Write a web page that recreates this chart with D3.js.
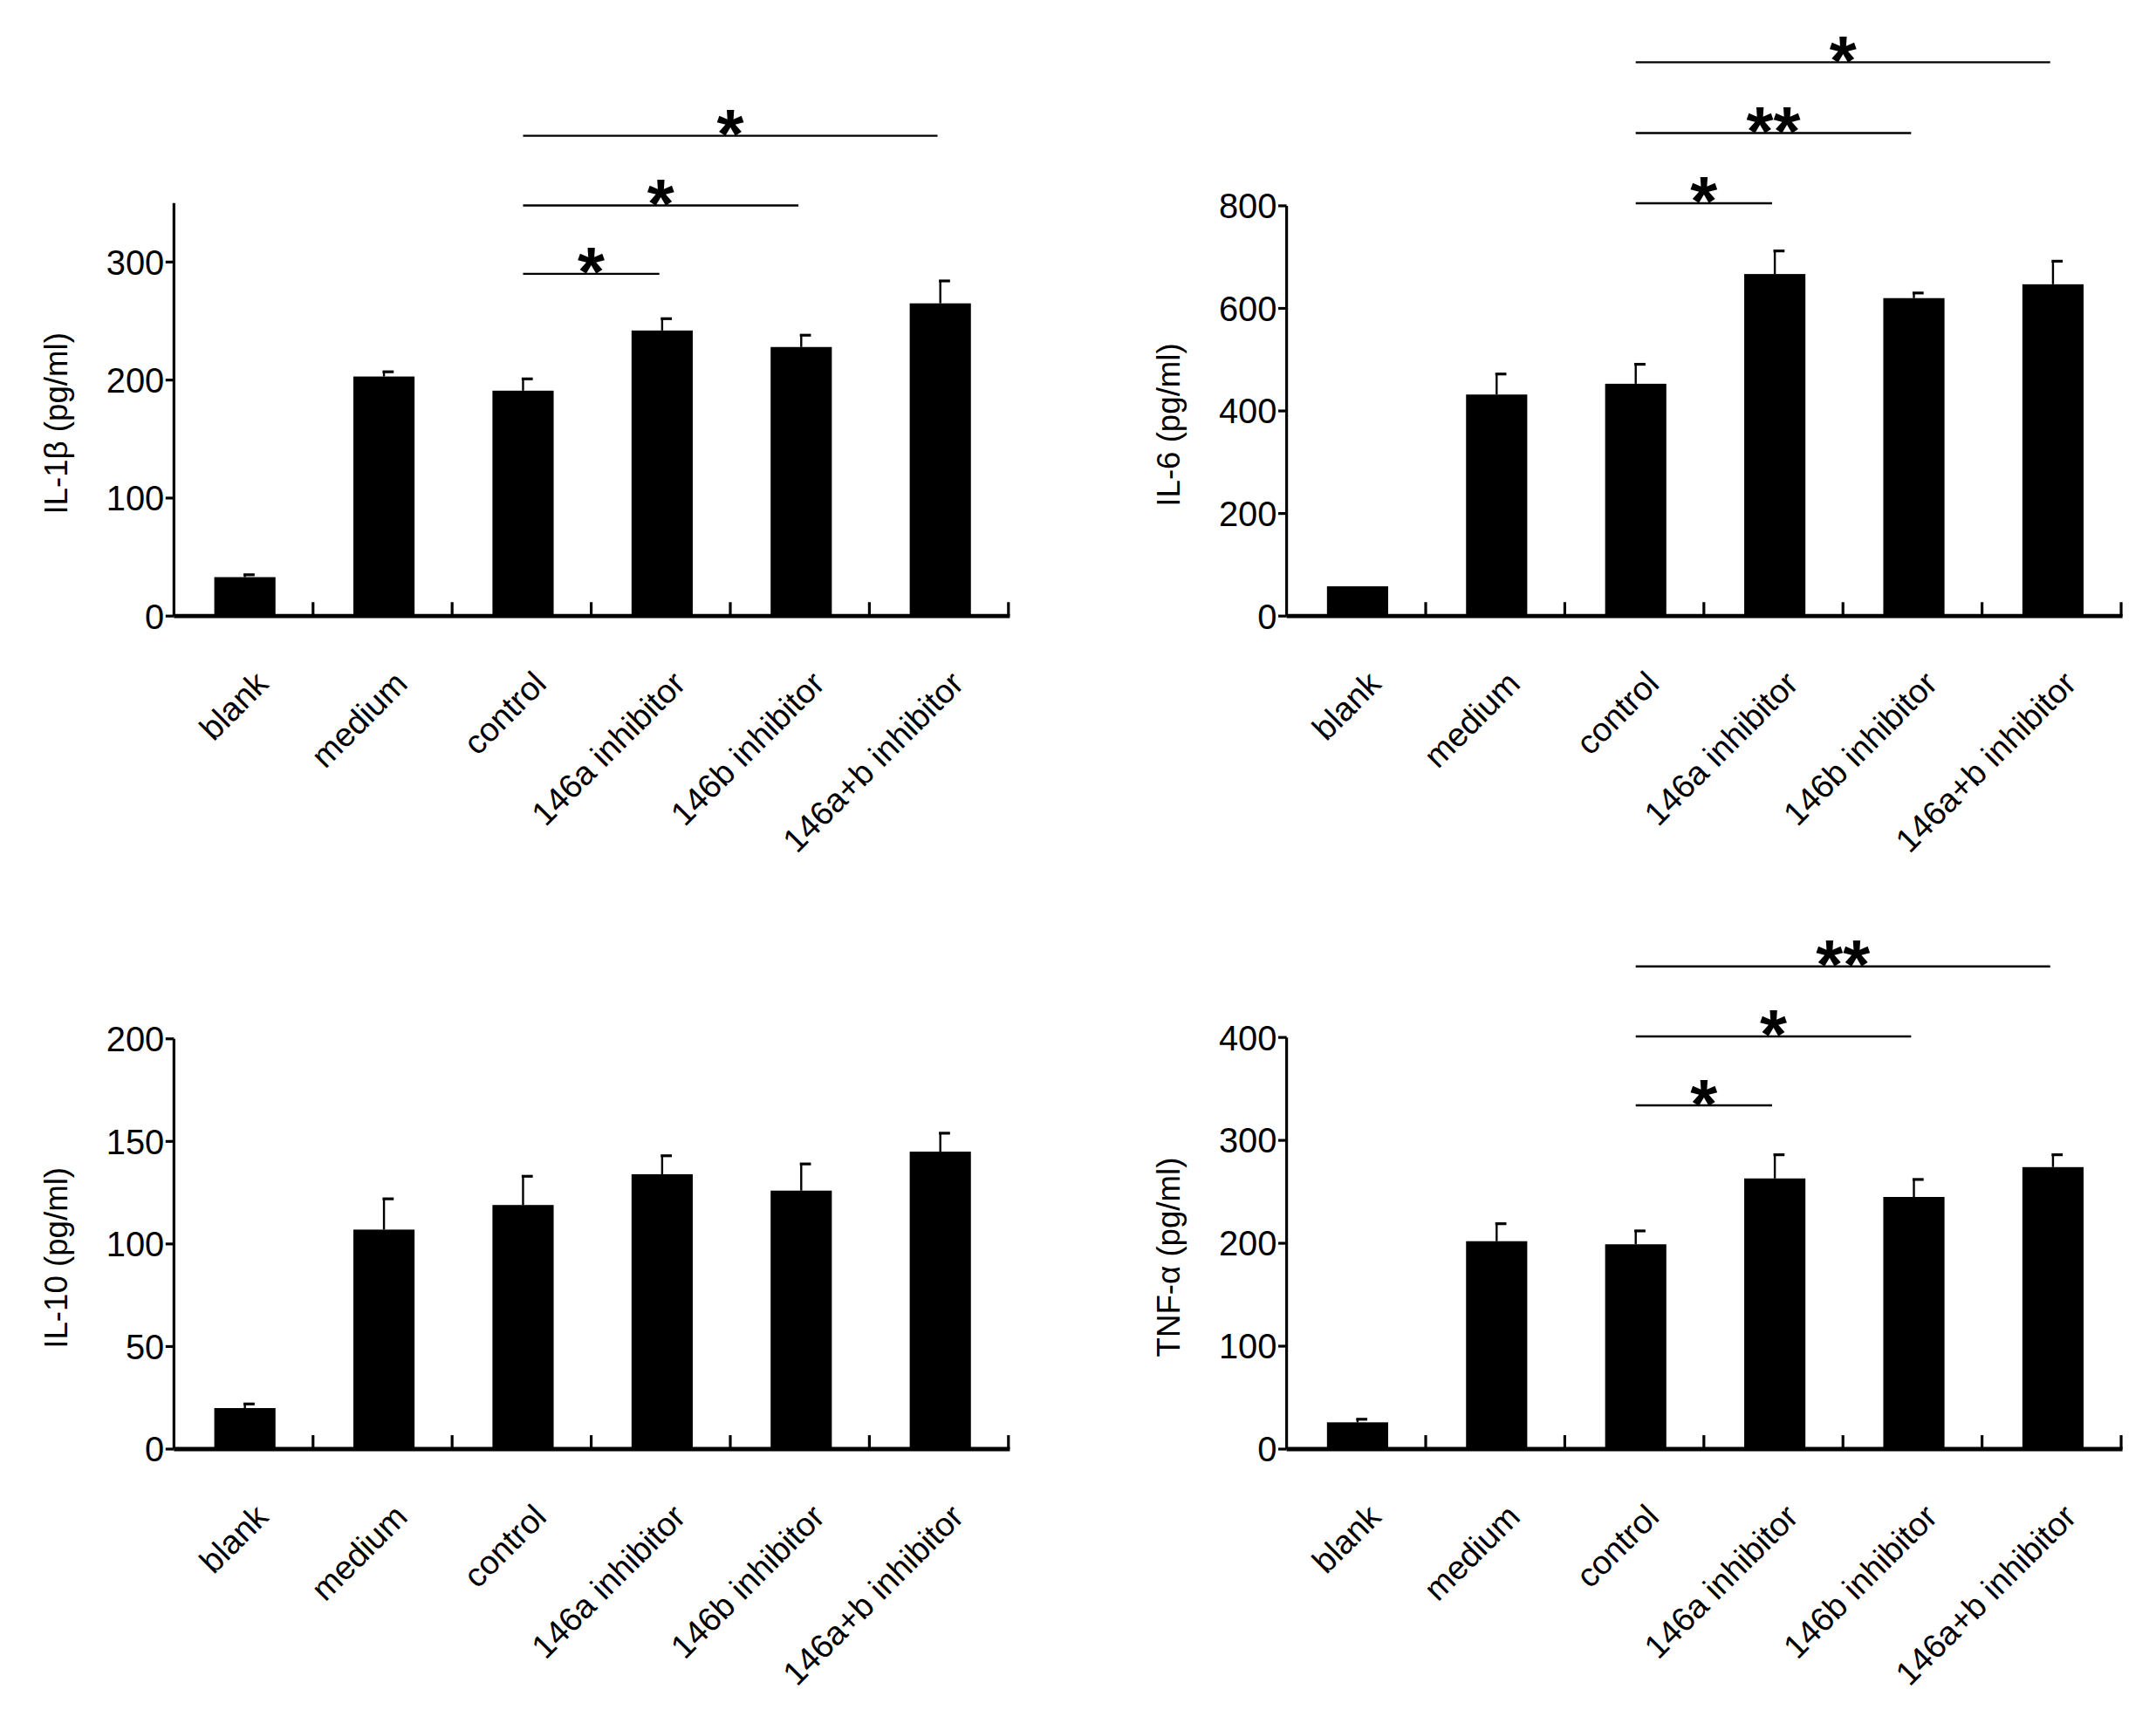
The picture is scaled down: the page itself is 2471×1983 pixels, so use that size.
<!DOCTYPE html>
<html><head><meta charset="utf-8">
<script src="https://cdn.jsdelivr.net/npm/d3@7"></script>
<style>body{margin:0;background:#fff}</style>
</head><body>
<script>
const categories = ["blank","medium","control","146a inhibitor","146b inhibitor","146a+b inhibitor"];
const il1bValues = [33,203,191,242,228,265];
const il1bErrors = [2,4,10,10,10,19];
const il6Values = [58,432,453,667,620,647];
const il6Errors = [0,40,38,45,10,45];
const il10Values = [20,107,119,134,126,145];
const il10Errors = [2,15,14,9,13,9];
const tnfValues = [26,202,199,263,245,274];
const tnfErrors = [3,17,13,23,17,12];
const il1bTicks = [0,100,200,300];
const il6Ticks = [0,200,400,600,800];
const il10Ticks = [0,50,100,150,200];
const tnfTicks = [0,100,200,300,400];
const il1bSig = [["control","146a inhibitor","*",290],["control","146b inhibitor","*",348],["control","146a+b inhibitor","*",407]];
const il6Sig = [["control","146a inhibitor","*",805],["control","146b inhibitor","**",942],["control","146a+b inhibitor","*",1080]];
const tnfSig = [["control","146a inhibitor","*",334],["control","146b inhibitor","*",401],["control","146a+b inhibitor","**",469]];

const panels = [
 {x0:125,y0:443,title:"IL-1β (pg/ml)",vals:il1bValues,errs:il1bErrors,ticks:il1bTicks,max:350,top:146,sig:il1bSig},
 {x0:925,y0:443,title:"IL-6 (pg/ml)",vals:il6Values,errs:il6Errors,ticks:il6Ticks,max:800,top:148,sig:il6Sig},
 {x0:125,y0:1042,title:"IL-10 (pg/ml)",vals:il10Values,errs:il10Errors,ticks:il10Ticks,max:200,top:747,sig:[]},
 {x0:925,y0:1042,title:"TNF-α (pg/ml)",vals:tnfValues,errs:tnfErrors,ticks:tnfTicks,max:400,top:746,sig:tnfSig}
];

const svg = d3.select("body").append("svg").attr("width",2471).attr("height",1983)
  .attr("viewBox","0 0 1550 1244").style("font-family","'Liberation Sans',Arial,sans-serif");

panels.forEach(p=>{
  const g = svg.append("g");
  const x = d3.scalePoint().domain(categories).range([p.x0+51, p.x0+551]);
  const bw = 44;
  const y = d3.scaleLinear().domain([0,p.max]).range([p.y0,p.top]);
  g.append("line").attr("x1",p.x0).attr("x2",p.x0).attr("y1",p.y0).attr("y2",p.top).attr("stroke","#000").attr("stroke-width",2);
  p.ticks.forEach(t=>{
    g.append("line").attr("x1",p.x0-6).attr("x2",p.x0).attr("y1",y(t)).attr("y2",y(t)).attr("stroke","#000").attr("stroke-width",2);
    g.append("text").attr("x",p.x0-7).attr("y",y(t)).attr("dy","0.36em").attr("text-anchor","end").attr("font-size",25).text(t);
  });
  g.append("text").attr("transform",`translate(${p.x0-85},${(p.y0+p.top)/2+10}) rotate(-90)`).attr("text-anchor","middle")
    .attr("dy","0.36em").attr("font-size",23).text(p.title);
  categories.forEach((c,i)=>{
    const cx = x(c);
    const v=p.vals[i], e=p.errs[i];
    if(e>0){
      g.append("line").attr("x1",cx).attr("x2",cx).attr("y1",y(v)).attr("y2",y(v+e)).attr("stroke","#000").attr("stroke-width",1.5);
      g.append("line").attr("x1",cx-1).attr("x2",cx+7).attr("y1",y(v+e)).attr("y2",y(v+e)).attr("stroke","#000").attr("stroke-width",2);
    }
    g.append("rect").attr("x",cx-bw/2).attr("width",bw).attr("y",y(v)).attr("height",p.y0-y(v)).attr("fill","#000");
    g.append("text").attr("transform",`translate(${cx+12},${p.y0+44}) rotate(-45)`).attr("text-anchor","end")
      .attr("dy","0.36em").attr("font-size",24).text(c);
  });
  g.append("line").attr("x1",p.x0).attr("x2",p.x0+601).attr("y1",p.y0).attr("y2",p.y0).attr("stroke","#000").attr("stroke-width",3);
  for(let i=1;i<=6;i++){
    const tx = p.x0+i*100;
    g.append("line").attr("x1",tx).attr("x2",tx).attr("y1",p.y0).attr("y2",p.y0-10).attr("stroke","#000").attr("stroke-width",2);
  }
  p.sig.forEach(s=>{
    const a = x(s[0]), b = x(s[1])-2, yy=y(s[3]);
    g.append("line").attr("x1",a).attr("x2",b).attr("y1",yy).attr("y2",yy).attr("stroke","#000").attr("stroke-width",1.5);
    g.append("text").attr("x",(a+b)/2).attr("y",yy+16).attr("text-anchor","middle").attr("font-size",50).attr("font-weight","bold").text(s[2]);
  });
});
</script>
</body></html>
